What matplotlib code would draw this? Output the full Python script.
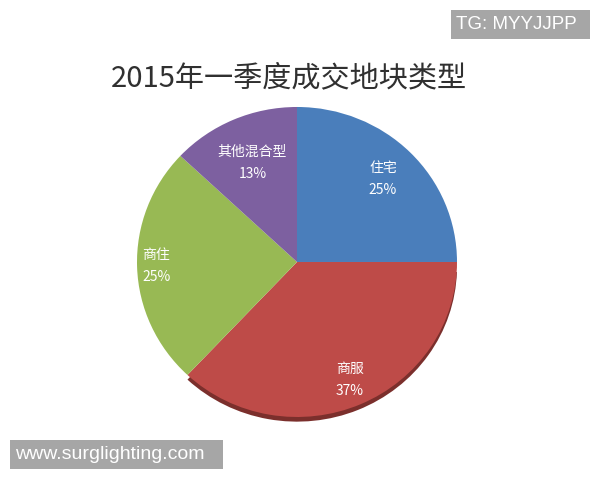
import numpy as np
import matplotlib
matplotlib.use("Agg")
import matplotlib.pyplot as plt
from matplotlib.patches import Wedge, Rectangle

plt.rcParams['font.family'] = ['Noto Sans CJK SC', 'DejaVu Sans']

labels = ['住宅', '商服', '商住', '其他混合型']
shares = [25, 37, 25, 13]
colors = ['#4a7ebb', '#be4b48', '#98b954', '#7d60a0']
# distance of each label from the centre, as a fraction of the radius
label_r = [0.76, 0.83, 0.88, 0.70]

fig = plt.figure(figsize=(6, 4.8), dpi=100)
fig.patch.set_facecolor('white')

ax = fig.add_axes([0.175, 0.0667, 0.64, 0.775])

wedges, _ = ax.pie(shares, colors=colors, startangle=90, counterclock=False,
                   radius=1.0, wedgeprops=dict(linewidth=0))
for w in wedges:
    w.set_zorder(2)

# dark rim under the big bottom slice
big = wedges[1]
ax.add_patch(Wedge((0, -0.03), 1.0, big.theta1, big.theta2 - 2,
                   color='#7b2f2c', linewidth=0, zorder=1))

for w, lab, val, r in zip(wedges, labels, shares, label_r):
    mid = np.deg2rad((w.theta1 + w.theta2) / 2)
    x, y = r * np.cos(mid), r * np.sin(mid)
    ax.text(x, y, f'{lab}\n{val}%', ha='center', va='center', color='white',
            fontsize=10, linespacing=1.75, zorder=3)

ax.set_xlim(-1.2, 1.2)
ax.set_ylim(-1.2, 1.2)
ax.set_aspect('auto')
ax.axis('off')

fig.text(0.482, 0.837, '2015年一季度成交地块类型', ha='center', va='center',
         fontsize=21, color='#303030')

# watermark boxes
wm_font = ['Liberation Sans', 'DejaVu Sans']
fig.patches.append(Rectangle((0.7517, 0.9188), 0.2316, 0.0604, transform=fig.transFigure,
                             facecolor='#a6a6a6', edgecolor='none'))
fig.text(0.760, 0.949, 'TG: MYYJJPP', ha='left', va='center', color='white',
         fontsize=13.5, family=wm_font)
fig.patches.append(Rectangle((0.0167, 0.0229), 0.355, 0.0604, transform=fig.transFigure,
                             facecolor='#a6a6a6', edgecolor='none'))
fig.text(0.025, 0.053, 'www.surglighting.com', ha='left', va='center', color='white',
         fontsize=14, family=wm_font)

fig.savefig('out.png', dpi=100)
